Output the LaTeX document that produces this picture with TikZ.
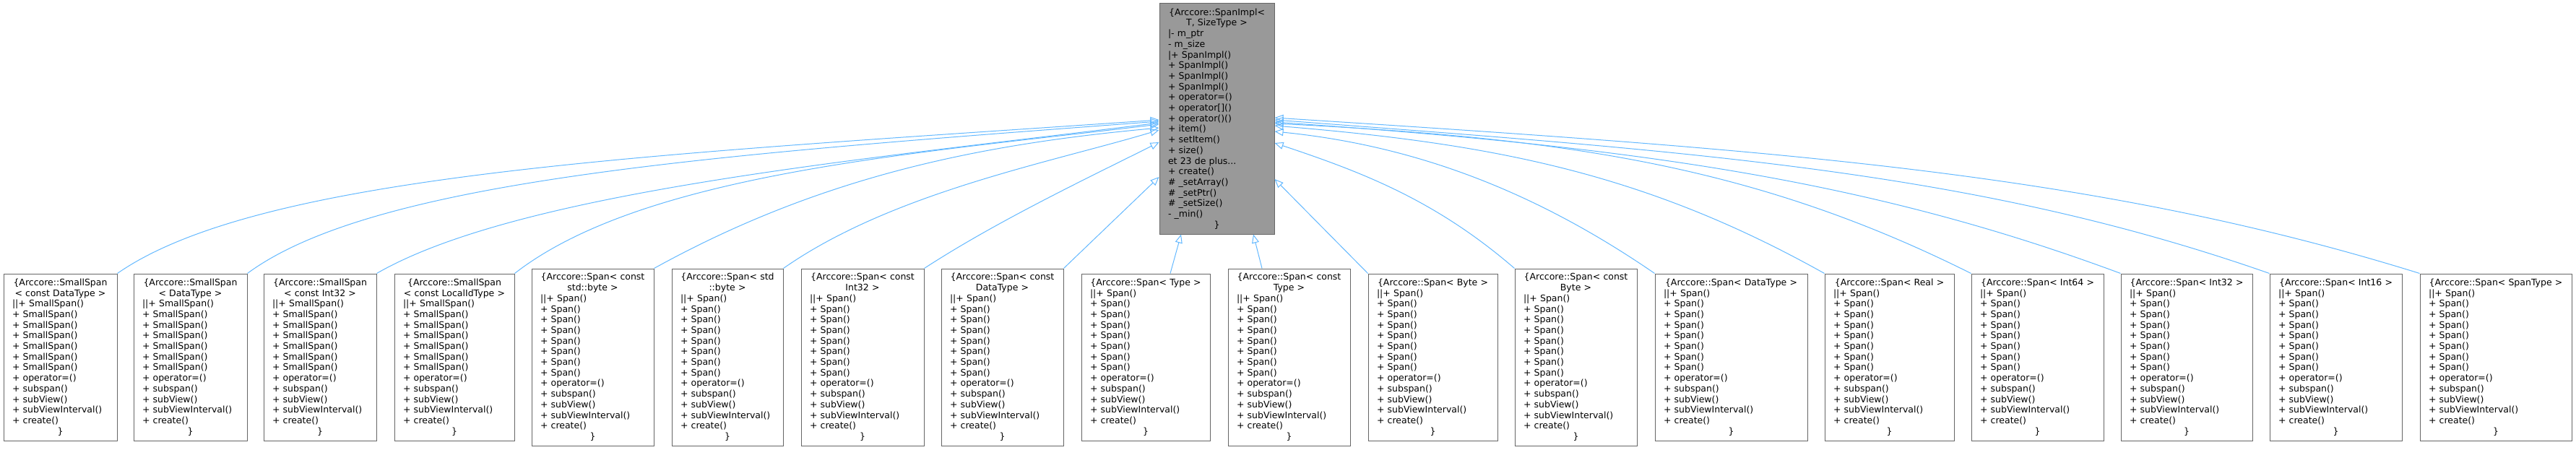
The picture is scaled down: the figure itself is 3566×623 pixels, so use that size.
\documentclass[tikz,border=0pt]{standalone}
\usepackage{fontspec}
\setmainfont{DejaVu Sans}
\usetikzlibrary{arrows.meta}
\definecolor{edgeblue}{HTML}{63B8FF}
\definecolor{basegray}{HTML}{999999}
\definecolor{boxline}{HTML}{666666}
\newcommand{\ctrline}[1]{\makebox[\hsize]{#1}}
\newcommand{\smallspanbody}{||+ SmallSpan()\\+ SmallSpan()\\+ SmallSpan()\\+ SmallSpan()\\+ SmallSpan()\\+ SmallSpan()\\+ SmallSpan()\\+ operator=()\\+ subspan()\\+ subView()\\+ subViewInterval()\\+ create()\\\ctrline{\}}}
\newcommand{\spanbody}{||+ Span()\\+ Span()\\+ Span()\\+ Span()\\+ Span()\\+ Span()\\+ Span()\\+ Span()\\+ operator=()\\+ subspan()\\+ subView()\\+ subViewInterval()\\+ create()\\\ctrline{\}}}

\begin{document}
\begin{tikzpicture}[x=1pt,y=1pt,
  classbox/.style={draw=boxline,fill=white,line width=1pt,inner xsep=12pt,inner ysep=0pt,
    align=left,font=\fontsize{12.5}{14.7}\selectfont},
  basebox/.style={classbox,fill=basegray},
  inheritline/.style={draw=edgeblue,line width=1pt,-{Triangle[open,length=12pt,width=10pt]}}]
  \useasboundingbox (0,0) rectangle (3566,-623);
  \node[basebox,text width=135pt,minimum height=319pt] (impl) at (1684.5,-164.5)
    {\ctrline{\{Arccore::SpanImpl<}\\\ctrline{T, SizeType >}\\|- m\_ptr\\- m\_size\\|+ SpanImpl()\\+ SpanImpl()\\+ SpanImpl()\\+ SpanImpl()\\+ operator=()\\+ operator[]()\\+ operator()()\\+ item()\\+ setItem()\\+ size()\\et 23 de plus...\\+ create()\\\# \_setArray()\\\# \_setPtr()\\\# \_setSize()\\- \_min()\\\ctrline{\}}};

  \node[classbox,text width=133pt,minimum height=231pt] (smallconstdt) at (83.5,-494.5)
    {\ctrline{\{Arccore::SmallSpan}\\\ctrline{< const DataType >}\\\smallspanbody};
  \node[classbox,text width=133pt,minimum height=231pt] (smalldt) at (263.5,-494.5)
    {\ctrline{\{Arccore::SmallSpan}\\\ctrline{< DataType >}\\\smallspanbody};
  \node[classbox,text width=132pt,minimum height=231pt] (smallconsti32) at (443,-494.5)
    {\ctrline{\{Arccore::SmallSpan}\\\ctrline{< const Int32 >}\\\smallspanbody};
  \node[classbox,text width=142pt,minimum height=231pt] (smallconstlid) at (629,-494.5)
    {\ctrline{\{Arccore::SmallSpan}\\\ctrline{< const LocalIdType >}\\\smallspanbody};
  \node[classbox,text width=145pt,minimum height=245pt] (spanconststdbyte) at (820.5,-494.5)
    {\ctrline{\{Arccore::Span< const}\\\ctrline{std::byte >}\\\spanbody};
  \node[classbox,text width=130pt,minimum height=245pt] (spanstdbyte) at (1007,-494.5)
    {\ctrline{\{Arccore::Span< std}\\\ctrline{::byte >}\\\spanbody};
  \node[classbox,text width=146pt,minimum height=245pt] (spanconsti32) at (1194,-494.5)
    {\ctrline{\{Arccore::Span< const}\\\ctrline{Int32 >}\\\spanbody};
  \node[classbox,text width=145pt,minimum height=245pt] (spanconstdt) at (1387.5,-494.5)
    {\ctrline{\{Arccore::Span< const}\\\ctrline{DataType >}\\\spanbody};
  \node[classbox,text width=154pt,minimum height=231pt] (spantype) at (1586,-494.5)
    {\ctrline{\{Arccore::Span< Type >}\\\spanbody};
  \node[classbox,text width=145pt,minimum height=245pt] (spanconsttype) at (1784.5,-494.5)
    {\ctrline{\{Arccore::Span< const}\\\ctrline{Type >}\\\spanbody};
  \node[classbox,text width=155pt,minimum height=231pt] (spanbyte) at (1983.5,-494.5)
    {\ctrline{\{Arccore::Span< Byte >}\\\spanbody};
  \node[classbox,text width=145pt,minimum height=245pt] (spanconstbyte) at (2181.5,-494.5)
    {\ctrline{\{Arccore::Span< const}\\\ctrline{Byte >}\\\spanbody};
  \node[classbox,text width=187pt,minimum height=231pt] (spandt) at (2396.5,-494.5)
    {\ctrline{\{Arccore::Span< DataType >}\\\spanbody};
  \node[classbox,text width=155pt,minimum height=231pt] (spanreal) at (2615.5,-494.5)
    {\ctrline{\{Arccore::Span< Real >}\\\spanbody};
  \node[classbox,text width=159pt,minimum height=231pt] (spani64) at (2820.5,-494.5)
    {\ctrline{\{Arccore::Span< Int64 >}\\\spanbody};
  \node[classbox,text width=158pt,minimum height=231pt] (spani32) at (3027,-494.5)
    {\ctrline{\{Arccore::Span< Int32 >}\\\spanbody};
  \node[classbox,text width=159pt,minimum height=231pt] (spani16) at (3233.5,-494.5)
    {\ctrline{\{Arccore::Span< Int16 >}\\\spanbody};
  \node[classbox,text width=186pt,minimum height=231pt] (spanspantype) at (3455,-494.5)
    {\ctrline{\{Arccore::Span< SpanType >}\\\spanbody};

  \draw[inheritline] (smallconstdt.north east) .. controls +(200,139) and +(-700,-48) .. ([yshift=-1.5pt]impl.west);
  \draw[inheritline] (smalldt.north east) .. controls +(176,130) and +(-613,-46) .. ([yshift=-3.5pt]impl.west);
  \draw[inheritline] (smallconsti32.north east) .. controls +(200,115) and +(-400,-50) .. ([yshift=-5.5pt]impl.west);
  \draw[inheritline] (smallconstlid.north east) .. controls +(180,140) and +(-330,-40) .. ([yshift=-7.5pt]impl.west);
  \draw[inheritline] (spanconststdbyte.north east) .. controls +(230,127) and +(-250,-23) .. ([yshift=-12.5pt]impl.west);
  \draw[inheritline] (spanstdbyte.north east) .. controls +(150,105) and +(-150,-45) .. ([yshift=-15.5pt]impl.west);
  \draw[inheritline] (spanconsti32.north east) .. controls +(100,65) and +(-100,-50) .. ([yshift=-32.5pt]impl.west);
  \draw[inheritline] (spanconstdt.north east) -- ([yshift=-80.5pt]impl.west);
  \draw[inheritline] ([xshift=34pt]spantype.north) -- ([xshift=-49.5pt]impl.south);
  \draw[inheritline] ([xshift=-37.5pt]spanconsttype.north) -- ([xshift=50.5pt]impl.south);
  \draw[inheritline] (spanbyte.north west) -- ([yshift=-83.5pt]impl.east);
  \draw[inheritline] (spanconstbyte.north west) .. controls +(-110,95) and +(120,-40) .. ([yshift=-33.5pt]impl.east);
  \draw[inheritline] (spandt.north west) .. controls +(-160,110) and +(200,-20) .. ([yshift=-17.5pt]impl.east);
  \draw[inheritline] (spanreal.north west) .. controls +(-250,140) and +(300,-25) .. ([yshift=-9.5pt]impl.east);
  \draw[inheritline] (spani64.north west) .. controls +(-300,150) and +(400,-20) .. ([yshift=-6.5pt]impl.east);
  \draw[inheritline] (spani32.north west) .. controls +(-350,130) and +(500,-35) .. ([yshift=-4.5pt]impl.east);
  \draw[inheritline] (spani16.north west) .. controls +(-400,140) and +(600,-45) .. ([yshift=-1.5pt]impl.east);
  \draw[inheritline] (spanspantype.north west) .. controls +(-450,140) and +(700,-45) .. ([yshift=1.5pt]impl.east);
\end{tikzpicture}
\end{document}
